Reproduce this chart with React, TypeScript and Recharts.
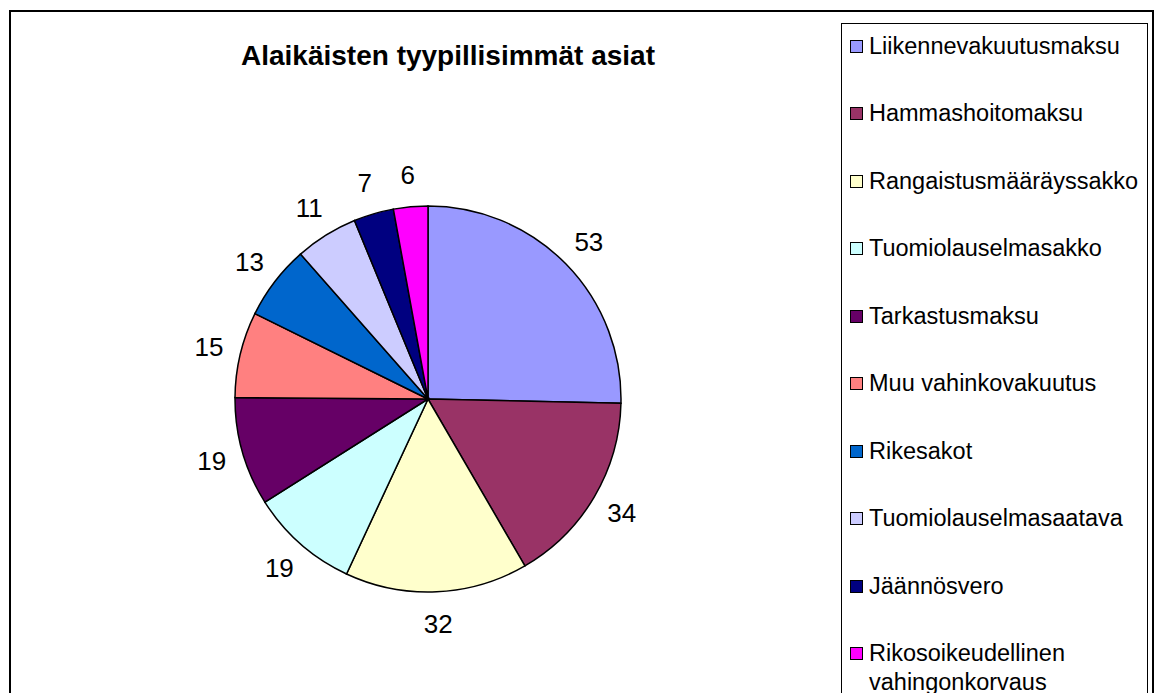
import { PieChart, Pie, Cell, Legend } from 'recharts';

const categories = [
  'Liikennevakuutusmaksu',
  'Hammashoitomaksu',
  'Rangaistusmääräyssakko',
  'Tuomiolauselmasakko',
  'Tarkastusmaksu',
  'Muu vahinkovakuutus',
  'Rikesakot',
  'Tuomiolauselmasaatava',
  'Jäännösvero',
  'Rikosoikeudellinen vahingonkorvaus',
];
const values = [53, 34, 32, 19, 19, 15, 13, 11, 7, 6];
const colors = ['#9999FF', '#993366', '#FFFFCC', '#CCFFFF', '#660066', '#FF8080', '#0066CC', '#CCCCFF', '#000080', '#FF00FF'];

const title = 'Alaikäisten tyypillisimmät asiat';
const FONT = '"Liberation Sans", Arial, sans-serif';
const RAD = Math.PI / 180;

const data = categories.map((name, i) => ({ name, value: values[i] }));

function renderLabel(props: any) {
  const { cx, cy, midAngle, outerRadius, value } = props;
  const r = outerRadius + 32;
  const x = cx + r * Math.cos(-midAngle * RAD);
  const y = cy + r * Math.sin(-midAngle * RAD);
  return (
    <text x={x} y={y} textAnchor="middle" dominantBaseline="central" fontSize={26} fontFamily={FONT} fill="#000">
      {value}
    </text>
  );
}

// legend keeps the data order (recharts sorts payload by name otherwise)
function renderLegend() {
  return (
    <div style={{ position: 'relative', width: 307, height: 700, border: '1.5px solid #000', boxSizing: 'border-box', fontFamily: FONT }}>
      {categories.map((name, i) => (
        <div
          key={name}
          style={{ position: 'absolute', left: 0, top: 7.5 + i * 67.5, display: 'flex', alignItems: 'flex-start' }}
        >
          <div
            style={{
              width: 13,
              height: 13,
              marginLeft: 8,
              marginTop: 8,
              background: colors[i],
              border: '1.5px solid #000',
              boxSizing: 'border-box',
              flexShrink: 0,
            }}
          />
          <div style={{ marginLeft: 6, width: 270, fontSize: 23.5, lineHeight: '29px', color: '#000' }}>{name}</div>
        </div>
      ))}
    </div>
  );
}

export default function App() {
  return (
    <div style={{ position: 'absolute', left: 0, top: 0, width: 1161, height: 693, overflow: 'hidden', background: '#fff' }}>
      <div
        style={{
          position: 'absolute',
          left: 9,
          top: 10,
          width: 1145,
          height: 720,
          border: '2px solid #000',
          boxSizing: 'border-box',
        }}
      />
      <div
        style={{
          position: 'absolute',
          left: 0,
          width: 896,
          top: 40,
          textAlign: 'center',
          fontFamily: FONT,
          fontWeight: 'bold',
          fontSize: 28,
          lineHeight: '32px',
          color: '#000',
        }}
      >
        {title}
      </div>
      <PieChart width={1161} height={693} style={{ position: 'absolute', left: 0, top: 0 }}>
        <Pie
          data={data}
          dataKey="value"
          nameKey="name"
          cx={423}
          cy={394}
          outerRadius={193}
          startAngle={90}
          endAngle={-270}
          stroke="#000"
          strokeWidth={1.5}
          label={renderLabel}
          labelLine={false}
          isAnimationActive={false}
        >
          {data.map((d, i) => (
            <Cell key={d.name} fill={colors[i]} />
          ))}
        </Pie>
        <Legend
          content={renderLegend}
          layout="vertical"
          wrapperStyle={{ position: 'absolute', left: 841, top: 23, width: 307, height: 700 }}
        />
      </PieChart>
    </div>
  );
}
